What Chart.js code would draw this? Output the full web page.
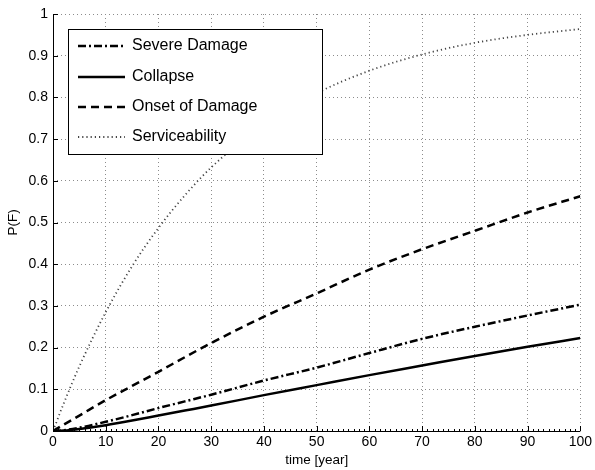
<!DOCTYPE html>
<html>
<head>
<meta charset="utf-8">
<script src="https://cdn.jsdelivr.net/npm/chart.js@4/dist/chart.umd.min.js"></script>
<style>
    html, body { margin: 0; padding: 0; background: #fff; }
</style>
</head>
<body>
<canvas id="chart" width="595" height="470"></canvas>
<script>
// 数据
const years = [0, 2, 5, 10, 15, 20, 25, 30, 40, 50, 60, 70, 80, 90, 100];
const severeDamage = [0, 0.002, 0.008, 0.022, 0.038, 0.055, 0.071, 0.087, 0.121, 0.152, 0.187, 0.221, 0.25, 0.277, 0.303];
const collapse = [0, 0.001, 0.005, 0.014, 0.025, 0.037, 0.049, 0.061, 0.086, 0.11, 0.134, 0.157, 0.18, 0.202, 0.223];
const onsetOfDamage = [0, 0.015, 0.037, 0.074, 0.108, 0.142, 0.177, 0.211, 0.274, 0.33, 0.387, 0.436, 0.48, 0.524, 0.563];
const serviceability = [0, 0.065, 0.155, 0.285, 0.395, 0.487, 0.565, 0.632, 0.736, 0.81, 0.864, 0.903, 0.931, 0.95, 0.964];
const seriesLabels = ['Severe Damage', 'Collapse', 'Onset of Damage', 'Serviceability'];
const xTicks = [0, 10, 20, 30, 40, 50, 60, 70, 80, 90, 100];

const FONT = 'Liberation Sans, Arial, Helvetica, sans-serif';

function toPoints(values) {
    return years.map((x, i) => ({ x: x, y: values[i] }));
}

const styles = [
    { color: '#000', width: 2.5, dash: [8, 3, 2, 3] },
    { color: '#000', width: 2.5, dash: [] },
    { color: '#000', width: 2.5, dash: [8, 5] },
    { color: '#444', width: 1.8, dash: [1.2, 3] },
];

const datasets = [severeDamage, collapse, onsetOfDamage, serviceability].map((values, i) => ({
    label: seriesLabels[i],
    data: toPoints(values),
    borderColor: styles[i].color,
    borderWidth: styles[i].width,
    borderDash: styles[i].dash,
    pointRadius: 0,
    fill: false,
    cubicInterpolationMode: 'monotone',
}));

// 坐标轴、刻度和图例（MATLAB 风格）
const matlabAxes = {
    id: 'matlabAxes',
    afterDraw(chart) {
        const { ctx, chartArea: a, scales: { x, y } } = chart;
        ctx.save();
        ctx.setLineDash([]);
        ctx.strokeStyle = '#000';
        ctx.lineWidth = 1;
        ctx.beginPath();
        ctx.moveTo(a.left + 0.5, a.top);
        ctx.lineTo(a.left + 0.5, a.bottom + 0.5);
        ctx.lineTo(a.right, a.bottom + 0.5);
        ctx.stroke();

        // 主刻度
        ctx.beginPath();
        xTicks.forEach(v => {
            const px = Math.round(x.getPixelForValue(v)) + 0.5;
            ctx.moveTo(px, a.bottom);
            ctx.lineTo(px, a.bottom - 5);
        });
        for (let i = 0; i <= 10; i++) {
            const py = Math.round(y.getPixelForValue(i / 10)) + 0.5;
            ctx.moveTo(a.left, py);
            ctx.lineTo(a.left + 5, py);
        }
        ctx.stroke();

        // 次刻度
        ctx.beginPath();
        for (let v = 0; v <= 100; v++) {
            const px = Math.round(x.getPixelForValue(v)) + 0.5;
            ctx.moveTo(px, a.bottom);
            ctx.lineTo(px, a.bottom - 2);
        }
        ctx.stroke();

        // 图例
        const box = { left: 68, top: 29, right: 322, bottom: 154 };
        ctx.fillStyle = '#fff';
        ctx.fillRect(box.left, box.top, box.right - box.left, box.bottom - box.top);
        ctx.strokeRect(box.left + 0.5, box.top + 0.5, box.right - box.left, box.bottom - box.top);
        const rows = [46, 77, 107, 137];
        ctx.font = '16px ' + FONT;
        ctx.textBaseline = 'middle';
        ctx.textAlign = 'left';
        chart.data.datasets.forEach((ds, i) => {
            const ry = rows[i];
            ctx.beginPath();
            ctx.strokeStyle = ds.borderColor;
            ctx.lineWidth = ds.borderWidth;
            ctx.setLineDash(ds.borderDash);
            ctx.moveTo(78, ry);
            ctx.lineTo(125, ry);
            ctx.stroke();
            ctx.fillStyle = '#000';
            ctx.fillText(ds.label, 132, ry);
        });
        ctx.restore();
    },
};

new Chart(document.getElementById('chart').getContext('2d'), {
    type: 'line',
    data: { datasets: datasets },
    options: {
        responsive: false,
        animation: false,
        devicePixelRatio: 1,
        layout: { padding: { left: 0, right: 13, top: 14, bottom: 0 } },
        plugins: {
            legend: { display: false },
            tooltip: { enabled: false },
        },
        scales: {
            x: {
                type: 'linear',
                min: 0,
                max: 100,
                ticks: {
                    stepSize: 10,
                    color: '#000',
                    font: { family: FONT, size: 14 },
                    padding: 3,
                    maxRotation: 0,
                },
                grid: { color: '#8c8c8c', lineWidth: 1, drawTicks: false },
                border: { display: false, dash: [1, 3] },
                title: {
                    display: true,
                    text: 'time [year]',
                    color: '#000',
                    font: { family: FONT, size: 13.5 },
                    padding: { top: 0, bottom: 2 },
                },
                afterFit(scale) { scale.height = 39; },
            },
            y: {
                min: 0,
                max: 1,
                ticks: {
                    stepSize: 0.1,
                    color: '#000',
                    font: { family: FONT, size: 14 },
                    padding: 5,
                    callback: v => String(Math.round(v * 10) / 10),
                },
                grid: { color: '#8c8c8c', lineWidth: 1, drawTicks: false },
                border: { display: false, dash: [1, 3] },
                title: {
                    display: true,
                    text: 'P(F)',
                    color: '#000',
                    font: { family: FONT, size: 13.5 },
                    padding: { top: 5, bottom: 0 },
                },
                afterFit(scale) { scale.width = 53; },
            },
        },
    },
    plugins: [matlabAxes],
});
</script>
</body>
</html>
